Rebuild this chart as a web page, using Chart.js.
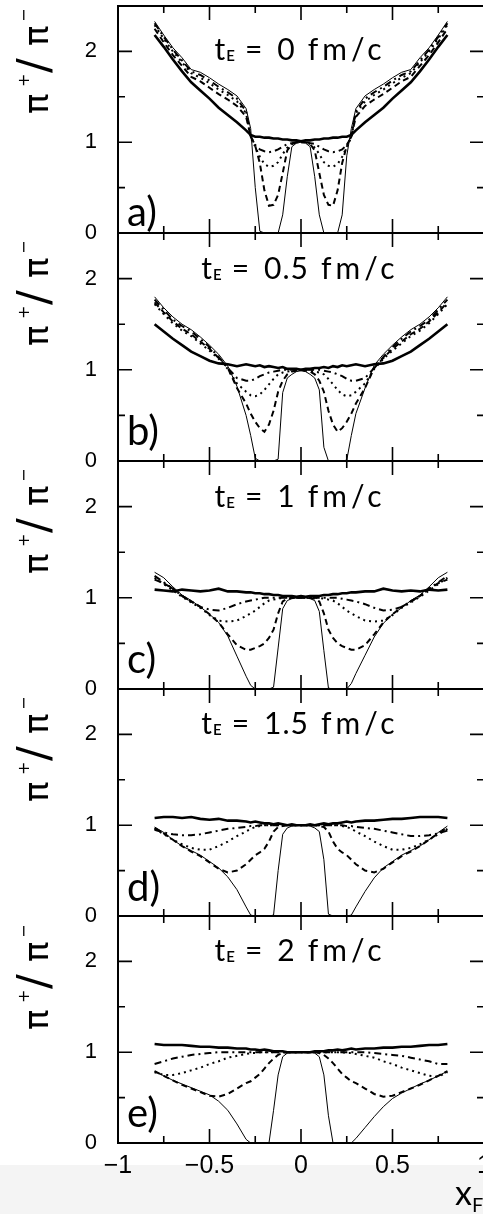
<!DOCTYPE html>
<html>
<head>
<meta charset="utf-8">
<script src="https://cdn.jsdelivr.net/npm/chart.js@4.4.1/dist/chart.umd.min.js"></script>
<style>
  html, body { margin: 0; padding: 0; overflow: hidden; width: 483px; height: 1214px; }
  body { background: linear-gradient(#fff 0, #fff 1165px, #f4f4f4 1165px); }
  canvas { position: absolute; left: 0; }
</style>
</head>
<body>
<canvas id="c0"></canvas>
<canvas id="c1"></canvas>
<canvas id="c2"></canvas>
<canvas id="c3"></canvas>
<canvas id="c4"></canvas>
<script>
// x_F grid (finer in the middle where the curves drop)
const XF = [-0.8,-0.75,-0.7,-0.65,-0.6,-0.55,-0.5,-0.45,-0.4,-0.35,-0.3,
  -0.275,-0.25,-0.225,-0.2,-0.175,-0.15,-0.125,-0.1,-0.075,-0.05,-0.025,0,
  0.025,0.05,0.075,0.1,0.125,0.15,0.175,0.2,0.225,0.25,0.275,
  0.3,0.35,0.4,0.45,0.5,0.55,0.6,0.65,0.7,0.75,0.8];

const TITLES = ['0', '0.5', '1', '1.5', '2'];
const LETTERS = ['a)', 'b)', 'c)', 'd)', 'e)'];

// a) t_E = 0
const A_THICK = [2.18,2.05,1.91,1.78,1.66,1.57,1.48,1.38,1.30,1.22,1.13,1.08,1.06,1.06,1.05,1.05,1.04,1.04,1.03,1.03,1.02,1.02,1.01,
  1.02,1.02,1.03,1.03,1.04,1.04,1.05,1.05,1.06,1.06,1.08,1.13,1.22,1.30,1.38,1.48,1.57,1.66,1.78,1.91,2.05,2.18];
const A_THIN = [2.33,2.18,2.04,1.93,1.80,1.77,1.71,1.64,1.58,1.51,1.37,1.15,0.50,0.02,0,0,0,0,0.20,0.62,0.95,0.99,1.00,
  0.99,0.95,0.62,0.20,0,0,0,0,0.20,0.85,1.15,1.37,1.51,1.58,1.64,1.71,1.77,1.80,1.93,2.04,2.18,2.33];
const A_DASH = [2.25,2.10,1.96,1.84,1.72,1.67,1.60,1.53,1.47,1.40,1.28,1.07,0.96,0.77,0.47,0.30,0.31,0.42,0.66,0.91,0.98,1.0,1.0,
  1.0,0.98,0.91,0.66,0.42,0.31,0.30,0.47,0.77,0.96,1.07,1.28,1.40,1.47,1.53,1.60,1.67,1.72,1.84,1.96,2.10,2.25];
const A_DOT = [2.29,2.14,2.00,1.88,1.76,1.71,1.65,1.58,1.52,1.45,1.32,1.05,0.95,0.84,0.76,0.73,0.74,0.78,0.87,0.94,0.98,1.0,1.0,
  1.0,0.98,0.94,0.87,0.78,0.74,0.73,0.76,0.84,0.95,1.05,1.32,1.45,1.52,1.58,1.65,1.71,1.76,1.88,2.00,2.14,2.29];
const A_DD = [2.31,2.16,2.02,1.90,1.78,1.74,1.68,1.61,1.55,1.48,1.34,1.06,0.97,0.92,0.90,0.89,0.90,0.92,0.95,0.98,0.99,1.0,1.0,
  1.0,0.99,0.98,0.95,0.92,0.90,0.89,0.90,0.92,0.97,1.06,1.34,1.48,1.55,1.61,1.68,1.74,1.78,1.90,2.02,2.16,2.31];

// b) t_E = 0.5
const B_THICK = [1.50,1.42,1.34,1.27,1.20,1.15,1.10,1.07,1.06,1.04,1.06,1.05,1.04,1.05,1.03,1.04,1.03,1.02,1.03,1.01,1.01,1.01,1.0,
  1.01,1.01,1.02,1.02,1.03,1.02,1.04,1.03,1.05,1.04,1.05,1.06,1.04,1.06,1.07,1.10,1.15,1.20,1.27,1.34,1.42,1.50];
const B_THIN = [1.80,1.68,1.58,1.50,1.44,1.36,1.27,1.17,1.04,0.82,0.50,0.28,0.03,0,0,0,0,0.02,0.75,0.91,0.95,0.98,0.99,
  0.98,0.95,0.91,0.78,0.15,0,0,0,0,0.01,0.28,0.52,0.80,1.05,1.17,1.27,1.36,1.44,1.50,1.58,1.68,1.80];
const B_DASH = [1.74,1.63,1.53,1.45,1.39,1.31,1.23,1.13,1.02,0.80,0.63,0.52,0.43,0.36,0.32,0.40,0.55,0.76,0.88,0.95,0.98,0.99,1.0,
  0.99,0.98,0.95,0.88,0.76,0.55,0.40,0.32,0.36,0.43,0.52,0.63,0.80,1.02,1.13,1.23,1.31,1.39,1.45,1.53,1.63,1.74];
const B_DOT = [1.72,1.61,1.51,1.43,1.37,1.29,1.21,1.12,1.01,0.85,0.76,0.72,0.71,0.73,0.78,0.84,0.90,0.95,0.97,0.98,0.99,1.0,1.0,
  1.0,0.99,0.98,0.97,0.95,0.90,0.84,0.78,0.73,0.71,0.72,0.76,0.85,1.01,1.12,1.21,1.29,1.37,1.43,1.51,1.61,1.72];
const B_DD = [1.77,1.66,1.55,1.48,1.42,1.34,1.25,1.14,1.02,0.91,0.88,0.88,0.90,0.93,0.95,0.97,0.98,0.99,1.0,1.0,1.0,1.0,1.0,
  1.0,1.0,1.0,1.0,0.99,0.98,0.97,0.95,0.93,0.90,0.88,0.88,0.91,1.02,1.14,1.25,1.34,1.42,1.48,1.55,1.66,1.77];

// c) t_E = 1
const C_THICK = [1.09,1.08,1.07,1.09,1.08,1.07,1.08,1.10,1.07,1.07,1.06,1.06,1.05,1.05,1.04,1.04,1.03,1.03,1.02,1.02,1.02,1.01,1.02,
  1.01,1.02,1.02,1.02,1.03,1.03,1.04,1.04,1.05,1.05,1.06,1.06,1.07,1.07,1.10,1.08,1.07,1.08,1.07,1.09,1.08,1.09];
const C_THIN = [1.28,1.22,1.12,1.03,0.97,0.90,0.82,0.73,0.58,0.36,0.14,0.04,0,0,0,0,0.02,0.45,0.88,0.97,0.99,1.0,1.0,
  1.0,0.99,0.97,0.85,0.42,0.01,0,0,0,0,0.06,0.17,0.37,0.57,0.72,0.82,0.89,0.97,1.03,1.12,1.22,1.28];
const C_DASH = [1.20,1.16,1.10,1.02,0.96,0.90,0.82,0.73,0.60,0.48,0.43,0.43,0.45,0.47,0.50,0.56,0.65,0.83,0.96,0.99,1.0,1.0,1.0,
  1.0,1.0,0.99,0.96,0.83,0.65,0.56,0.50,0.47,0.45,0.43,0.43,0.48,0.60,0.73,0.82,0.90,0.96,1.02,1.10,1.16,1.20];
const C_DOT = [1.22,1.15,1.08,1.01,0.95,0.89,0.81,0.75,0.74,0.75,0.80,0.83,0.86,0.90,0.94,0.97,0.98,0.99,1.0,1.0,1.0,1.0,1.0,
  1.0,1.0,1.0,1.0,0.99,0.98,0.97,0.94,0.90,0.86,0.83,0.80,0.75,0.74,0.75,0.81,0.89,0.95,1.01,1.08,1.15,1.22];
const C_DD = [1.24,1.17,1.10,1.02,0.96,0.90,0.87,0.86,0.89,0.93,0.96,0.97,0.98,0.99,1.0,1.0,1.0,1.0,1.0,1.0,1.0,1.0,1.0,
  1.0,1.0,1.0,1.0,1.0,1.0,1.0,1.0,0.99,0.98,0.97,0.96,0.93,0.89,0.86,0.87,0.90,0.96,1.02,1.10,1.17,1.24];

// d) t_E = 1.5
const D_THICK = [1.08,1.09,1.09,1.08,1.09,1.07,1.06,1.07,1.05,1.05,1.04,1.03,1.04,1.03,1.02,1.02,1.01,1.02,1.01,1.0,1.01,1.0,1.0,
  1.0,1.01,1.0,1.01,1.02,1.01,1.02,1.02,1.03,1.04,1.03,1.04,1.05,1.05,1.06,1.07,1.07,1.08,1.09,1.09,1.09,1.08];
const D_THIN = [0.98,0.92,0.84,0.77,0.72,0.67,0.60,0.53,0.43,0.29,0.10,0.01,0,0,0,0,0.01,0.50,0.90,0.97,0.99,1.0,1.0,
  1.0,0.99,0.97,0.93,0.62,0.02,0,0,0,0,0.01,0.10,0.27,0.42,0.53,0.60,0.67,0.72,0.77,0.84,0.92,0.99];
const D_DASH = [0.97,0.91,0.84,0.77,0.71,0.66,0.59,0.52,0.48,0.50,0.57,0.62,0.67,0.70,0.74,0.82,0.93,0.98,0.99,1.0,1.0,1.0,1.0,
  1.0,1.0,1.0,0.99,0.98,0.93,0.82,0.74,0.70,0.67,0.62,0.57,0.50,0.48,0.52,0.59,0.66,0.71,0.77,0.84,0.91,0.97];
const D_DOT = [0.96,0.90,0.84,0.79,0.75,0.73,0.73,0.77,0.82,0.88,0.93,0.96,0.98,0.99,1.0,1.0,1.0,1.0,1.0,1.0,1.0,1.0,1.0,
  1.0,1.0,1.0,1.0,1.0,1.0,1.0,1.0,0.99,0.98,0.96,0.93,0.88,0.82,0.77,0.73,0.73,0.75,0.79,0.84,0.90,0.96];
const D_DD = [0.95,0.92,0.90,0.89,0.89,0.90,0.92,0.94,0.96,0.97,0.98,0.99,0.99,1.0,1.0,1.0,1.0,1.0,1.0,1.0,1.0,1.0,1.0,
  1.0,1.0,1.0,1.0,1.0,1.0,1.0,1.0,1.0,0.99,0.99,0.98,0.97,0.96,0.94,0.92,0.90,0.88,0.88,0.89,0.91,0.94];

// e) t_E = 2
const E_THICK = [1.09,1.08,1.08,1.08,1.07,1.06,1.06,1.05,1.05,1.04,1.04,1.03,1.03,1.02,1.03,1.02,1.01,1.01,1.01,1.0,1.0,1.0,1.0,
  1.0,1.0,1.01,1.01,1.01,1.02,1.02,1.03,1.02,1.03,1.04,1.03,1.04,1.04,1.05,1.05,1.06,1.06,1.07,1.08,1.08,1.09];
const E_THIN = [0.79,0.74,0.69,0.65,0.61,0.57,0.53,0.46,0.36,0.21,0.04,0,0,0,0,0,0.36,0.75,0.95,0.99,1.0,1.0,1.0,
  1.0,1.0,0.99,0.95,0.75,0.30,0,0,0,0,0,0.05,0.17,0.29,0.40,0.49,0.55,0.60,0.65,0.69,0.74,0.79];
const E_DASH = [0.79,0.74,0.69,0.64,0.60,0.56,0.52,0.51,0.54,0.60,0.66,0.68,0.72,0.76,0.82,0.88,0.93,0.97,0.99,1.0,1.0,1.0,1.0,
  1.0,1.0,1.0,0.99,0.97,0.93,0.88,0.82,0.76,0.72,0.68,0.66,0.60,0.54,0.51,0.52,0.56,0.60,0.64,0.69,0.74,0.79];
const E_DOT = [0.78,0.75,0.75,0.77,0.80,0.83,0.87,0.90,0.94,0.96,0.98,0.99,0.99,1.0,1.0,1.0,1.0,1.0,1.0,1.0,1.0,1.0,1.0,
  1.0,1.0,1.0,1.0,1.0,1.0,1.0,1.0,1.0,0.99,0.99,0.98,0.96,0.94,0.90,0.87,0.83,0.80,0.77,0.74,0.73,0.78];
const E_DD = [0.87,0.90,0.93,0.95,0.97,0.98,0.99,1.0,1.0,1.0,1.0,1.0,1.0,1.0,1.0,1.0,1.0,1.0,1.0,1.0,1.0,1.0,1.0,
  1.0,1.0,1.0,1.0,1.0,1.0,1.0,1.0,1.0,1.0,1.0,1.0,1.0,0.99,0.98,0.97,0.96,0.94,0.92,0.90,0.87,0.87];

const PANELS = [
  [A_THIN, A_DD, A_DOT, A_DASH, A_THICK],
  [B_THIN, B_DD, B_DOT, B_DASH, B_THICK],
  [C_THIN, C_DD, C_DOT, C_DASH, C_THICK],
  [D_THIN, D_DD, D_DOT, D_DASH, D_THICK],
  [E_THIN, E_DD, E_DOT, E_DASH, E_THICK]
];

// thin, dash-dot, dotted, dashed, thick
const LINE_STYLES = [
  { borderWidth: 1, borderDash: [] },
  { borderWidth: 2, borderDash: [7, 4, 2, 4] },
  { borderWidth: 2, borderDash: [2, 4] },
  { borderWidth: 2, borderDash: [6, 4] },
  { borderWidth: 2.6, borderDash: [] }
];

const X_MARKS = [-0.75, -0.5, -0.25, 0, 0.25, 0.5, 0.75];
const Y_MARKS = [0.5, 1, 1.5, 2];

// plot frame of each panel, page pixels
const PANEL_TOP = [6, 233, 461, 689, 916];
const PANEL_BOT = [233, 461, 689, 916, 1143];
const PAD = 40;
const X_AXIS_H = 40;
const PAGE_H = 1214;

const TITLE_Y = [1.91, 2, 2, 2, 2];
const LETTER_OFF = [7, 16, 16, 15, 16];
const YLAB_OFF = [56, 61, 61, 61, 62];

function drawTitle(ctx, cx, base, val) {
  const big = '30px Lato';
  const parts = [
    { t: 't', f: big, dy: 0, gap: 1, ls: 0 },
    { t: 'E', f: '600 15px Lato', dy: 1, gap: 10, ls: 0 },
    { t: '=', f: big, dy: 0, gap: 15, ls: 0 },
    { t: val, f: big, dy: 0, gap: 12, ls: 1 },
    { t: 'fm/c', f: big, dy: 0, gap: 0, ls: 4 }
  ];
  let total = 0;
  for (const p of parts) {
    ctx.font = p.f;
    ctx.letterSpacing = p.ls + 'px';
    p.w = ctx.measureText(p.t).width;
    total += p.w + p.gap;
  }
  let xx = cx - total / 2;
  ctx.textAlign = 'left';
  ctx.textBaseline = 'alphabetic';
  for (const p of parts) {
    ctx.font = p.f;
    ctx.letterSpacing = p.ls + 'px';
    ctx.fillText(p.t, xx, base + p.dy);
    xx += p.w + p.gap;
  }
  ctx.letterSpacing = '0px';
}

function drawYLabel(ctx, cx, cy) {
  ctx.save();
  ctx.translate(cx, cy);
  ctx.rotate(-Math.PI / 2);
  ctx.textAlign = 'left';
  ctx.textBaseline = 'alphabetic';
  ctx.font = '34px DejaVu Sans';
  ctx.fillText('π', -52, 10);
  ctx.font = '16px DejaVu Sans';
  ctx.fillText('+', -25, -9);
  ctx.font = '44px DejaVu Sans';
  ctx.fillText('/', -11, 11);
  ctx.font = '34px DejaVu Sans';
  ctx.fillText('π', 16, 10);
  ctx.font = '16px DejaVu Sans';
  ctx.fillText('−', 40, -9);
  ctx.restore();
}

const framePlugin = {
  id: 'frame',
  afterDraw(chart, args, opts) {
    const { ctx, chartArea: a, scales: { x, y } } = chart;
    const i = opts.index;
    ctx.save();
    ctx.strokeStyle = '#000';
    ctx.fillStyle = '#000';
    ctx.lineWidth = 1.6;
    ctx.beginPath();
    for (const v of X_MARKS) {
      const px = x.getPixelForValue(v);
      const len = v % 0.5 === 0 ? 14 : 7;
      ctx.moveTo(px, a.bottom); ctx.lineTo(px, a.bottom - len);
      ctx.moveTo(px, a.top); ctx.lineTo(px, a.top + len);
    }
    for (const v of Y_MARKS) {
      const py = y.getPixelForValue(v);
      const len = Number.isInteger(v) ? 14 : 7;
      ctx.moveTo(a.left, py); ctx.lineTo(a.left + len, py);
      ctx.moveTo(a.right, py); ctx.lineTo(a.right - len, py);
    }
    ctx.stroke();
    ctx.lineWidth = 2;
    ctx.strokeRect(a.left, a.top, a.right - a.left, a.bottom - a.top);

    drawTitle(ctx, x.getPixelForValue(0) - 1, y.getPixelForValue(TITLE_Y[i]), TITLES[i]);

    ctx.font = '40px Lato';
    ctx.textAlign = 'left';
    ctx.textBaseline = 'alphabetic';
    ctx.fillText(LETTERS[i], a.left + 9, a.bottom - LETTER_OFF[i]);

    drawYLabel(ctx, 38, a.top + YLAB_OFF[i]);

    if (opts.last) {
      const off = a.bottom - PANEL_BOT[i];
      ctx.font = '34px Lato';
      ctx.fillText('x', 455, 1205 + off);
      ctx.font = '20px Lato';
      ctx.fillText('F', 472, 1212 + off);
    }
    ctx.restore();
  }
};

PANELS.forEach((series, i) => {
  series.forEach(s => { if (s.length !== XF.length) throw new Error('panel ' + i + ' length ' + s.length); });
  const last = i === PANELS.length - 1;
  const top = PANEL_TOP[i] - PAD;
  const plotH = PANEL_BOT[i] - PANEL_TOP[i];
  const h = last ? PAGE_H - top : PAD + plotH + PAD;
  const canvas = document.getElementById('c' + i);
  canvas.width = 500;
  canvas.height = h;
  canvas.style.top = top + 'px';

  new Chart(canvas, {
    type: 'line',
    data: {
      datasets: series.map((ys, k) => ({
        data: XF.map((xv, j) => ({ x: xv, y: ys[j] })),
        borderColor: '#000',
        borderWidth: LINE_STYLES[k].borderWidth,
        borderDash: LINE_STYLES[k].borderDash,
        pointRadius: 0,
        tension: 0,
        fill: false
      }))
    },
    options: {
      responsive: false,
      animation: false,
      events: [],
      layout: {
        padding: { left: 0, right: 16, top: PAD, bottom: last ? h - PAD - plotH - X_AXIS_H : PAD }
      },
      plugins: {
        legend: { display: false },
        tooltip: { enabled: false },
        frame: { index: i, last: last }
      },
      scales: {
        x: {
          type: 'linear',
          min: -1,
          max: 1,
          display: last,
          grid: { display: false },
          border: { display: false },
          ticks: {
            stepSize: 0.5,
            color: '#000',
            padding: 0,
            maxRotation: 0,
            font: { family: 'Liberation Sans', size: 25 },
            callback: v => (v < 0 ? '\u2212' : '') + Math.abs(v)
          },
          afterFit: s => { if (last) s.height = X_AXIS_H; }
        },
        y: {
          min: 0,
          max: 2.5,
          grid: { display: false },
          border: { display: false },
          ticks: {
            stepSize: 0.5,
            color: '#000',
            padding: 13,
            font: { family: 'Liberation Sans', size: 22 },
            callback: v => Number.isInteger(v) ? String(v) : ''
          },
          afterFit: s => { s.width = 118; }
        }
      }
    },
    plugins: [framePlugin]
  });
});
</script>
</body>
</html>
